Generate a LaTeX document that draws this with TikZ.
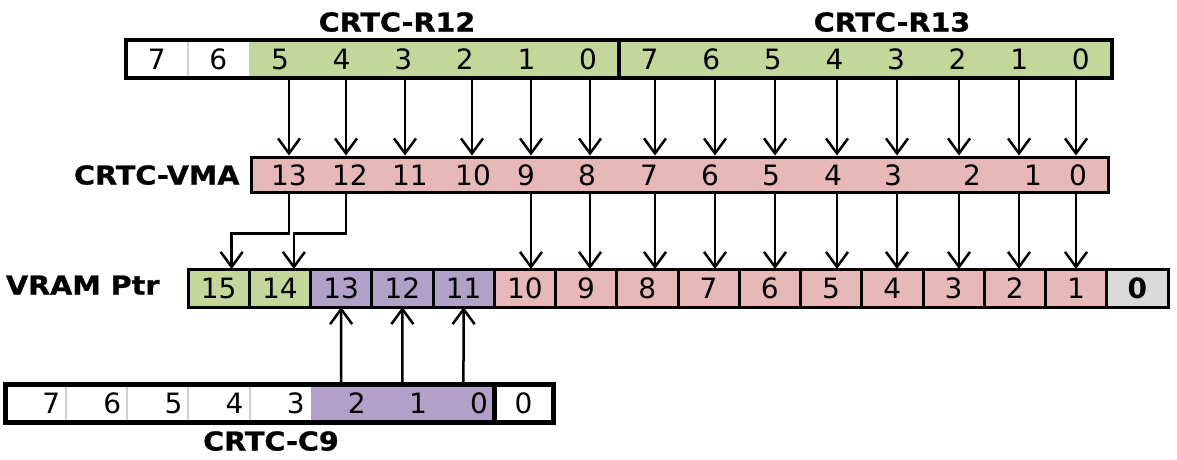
\documentclass[tikz,border=0pt]{standalone}
\usepackage{fontspec}
\setmainfont{DejaVu Sans}
\newfontfamily\boldlabel[FakeStretch=1.1, FakeBold=1]{DejaVu Sans Bold}
\usetikzlibrary{arrows.meta}
\definecolor{regGreen}{HTML}{C4D79B}
\definecolor{vmaPink}{HTML}{E6B8B7}
\definecolor{cNinePurple}{HTML}{B1A0C7}
\definecolor{zeroGrey}{HTML}{D9D9D9}
\definecolor{sepGrey}{HTML}{C8D0DC}
\newcommand\cellH{38}
\newcommand\topW{61.6}
\newcommand\ptrW{61.25}
\newcommand\nineW{61.125}
\newcommand\nineT{49.125}

\begin{document}
\begin{tikzpicture}[x=1pt, y=-1pt,
    digit/.style={font=\fontsize{28}{28}\selectfont, text height=20.4pt, text depth=0pt},
    regname/.style={font=\boldlabel\fontsize{26}{26}\selectfont, text height=19pt, text depth=0pt},
    bitcell/.style={digit, minimum height=\cellH pt, inner sep=0pt, outer sep=0pt},
    ptrcell/.style={bitcell, draw=black, line width=3pt, minimum width=\ptrW pt},
    flow/.style={line width=2.5pt, -{Straight Barb[length=15pt,width=22pt]}}]
    \useasboundingbox (0,0) rectangle (1177,459);

    % CRTC-R12 and CRTC-R13
    \foreach \b/\c [count=\k from 0] in {7/white,6/white,5/regGreen,4/regGreen,3/regGreen,2/regGreen,1/regGreen,0/regGreen}
        \node[bitcell, minimum width=\topW pt, fill=\c] (r12b\b) at ({126+\topW*(\k+0.5)}, 59) {\b};
    \foreach \b [count=\k from 8] in {7,...,0}
        \node[bitcell, minimum width=\topW pt, fill=regGreen] (r13b\b) at ({126+\topW*(\k+0.5)}, 59) {\b};
    \draw[sepGrey, line width=2pt] (r12b7.north east) -- (r12b7.south east);
    \draw[line width=4pt] (r12b7.north west) rectangle (r13b0.south east);
    \draw[line width=4.5pt] (r12b0.north east) -- (r12b0.south east);
    \node[regname] (r12name) at (397,22) {CRTC-R12};
    \node[regname] (r13name) at (892,22) {CRTC-R13};

    % CRTC-VMA
    \node[draw, line width=3pt, fill=vmaPink, minimum width=857.5pt, minimum height=35pt, inner sep=0pt, anchor=west] (vma) at (249.5,174.5) {};
    \node[regname, anchor=east] (vmaname) at (243,175) {CRTC-VMA};
    \foreach \b/\dx/\ax in {13/289/289, 12/350/346, 11/410/405, 10/473/472, 9/526/531, 8/587/590, 7/649/655, 6/710/715, 5/771/775, 4/833/837, 3/893/897, 2/972/959, 1/1033/1019, 0/1078/1076} {
        \node[digit] (v\b) at (\dx,175) {\b};
        \coordinate (a\b) at (\ax,175);
    }
    \foreach \s/\b in {r12b5/13, r12b4/12, r12b3/11, r12b2/10, r12b1/9, r12b0/8, r13b7/7, r13b6/6, r13b5/5, r13b4/4, r13b3/3, r13b2/2, r13b1/1, r13b0/0}
        \draw[flow] (a\b |- \s.south) -- (a\b |- vma.north);

    % VRAM pointer
    \foreach \b/\c [count=\k from 0] in {15/regGreen,14/regGreen,13/cNinePurple,12/cNinePurple,11/cNinePurple,10/vmaPink,9/vmaPink,8/vmaPink,7/vmaPink,6/vmaPink,5/vmaPink,4/vmaPink,3/vmaPink,2/vmaPink,1/vmaPink}
        \node[ptrcell, fill=\c] (p\b) at ({188+\ptrW*(\k+0.5)}, 288) {\b};
    \node[ptrcell, fill=zeroGrey, font=\fontsize{28}{28}\selectfont\bfseries] (p0) at ({188+\ptrW*15.5}, 288) {0};
    \node[regname, anchor=east] (ptrname) at (163,285) {VRAM Ptr};
    \foreach \b/\t in {9/10, 8/9, 7/8, 6/7, 5/6, 4/5, 3/4, 2/3, 1/2, 0/1}
        \draw[flow] (a\b |- vma.south) -- (a\b |- p\t.north);
    \draw[flow] (a13 |- vma.south) -- ++(0,40) -| ([xshift=13pt]p15.north);
    \draw[flow] (a12 |- vma.south) -- ++(0,40) -| ([xshift=14pt]p14.north);

    % CRTC-C9
    \foreach \b/\c [count=\k from 0] in {7/white,6/white,5/white,4/white,3/white,2/cNinePurple,1/cNinePurple,0/cNinePurple}
        \node[bitcell, fill=\c, inner xsep=6pt, text width=\nineT pt, align=right] (c\b) at ({5+\nineW*(\k+0.5)}, 403) {\b};
    \node[bitcell, minimum width=59pt] (c9z) at (523.5,403) {0};
    \foreach \b in {7,6,5,4}
        \draw[sepGrey, line width=2pt] (c\b.north east) -- (c\b.south east);
    \draw[line width=5pt] (c7.north west) rectangle (c9z.south east);
    \draw[line width=5pt] (c0.north east) -- (c0.south east);
    \node[regname] (c9name) at (271,441) {CRTC-C9};
    \foreach \s/\t in {2/13, 1/12, 0/11}
        \draw[flow] (c\s.north) -- (p\t.south);
\end{tikzpicture}
\end{document}
